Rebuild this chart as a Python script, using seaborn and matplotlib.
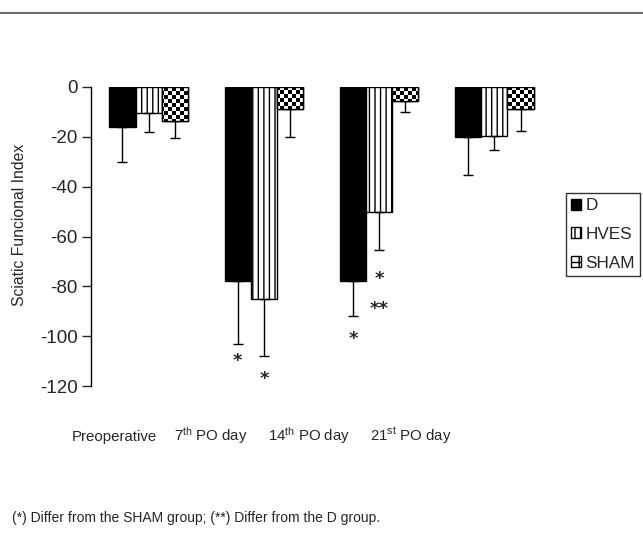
import numpy as np
import pandas as pd
import matplotlib
matplotlib.use('Agg')
import matplotlib.pyplot as plt
import seaborn as sns
from matplotlib.patches import Patch, Rectangle
from matplotlib.lines import Line2D


# data
days   = ['Preoperative', '7th PO day', '14th PO day', '21st PO day']
groups = ['D', 'HVES', 'SHAM']

sfi_D    = [-16.0, -78.0, -78.0, -20.0]
sfi_HVES = [-10.5, -85.0, -50.0, -19.5]
sfi_SHAM = [-13.5,  -9.0,  -5.5,  -9.0]

err_D    = [14.0, 25.0, 14.0, 15.5]
err_HVES = [ 7.7, 23.0, 15.5,  5.7]
err_SHAM = [ 7.0, 11.0,  4.5,  8.5]

tick_labels = ['Preoperative', '7$^{th}$ PO day', '14$^{th}$ PO day', '21$^{st}$ PO day']

# significance marks: (day index, group index, y, text)
marks = [(1, 0, -110, '*'), (1, 1, -117, '*'),
         (2, 0, -101, '*'), (2, 1, -77, '*'), (2, 1, -89, '**')]


sns.set_style('white')
plt.rcParams['font.family'] = ['Liberation Sans', 'DejaVu Sans']
plt.rcParams['mathtext.default'] = 'regular'
plt.rcParams['axes.unicode_minus'] = False
plt.rcParams['hatch.linewidth'] = 1.0

df = pd.DataFrame({
    'Day':   np.repeat(days, 3),
    'Group': groups * 4,
    'SFI':   np.ravel(np.column_stack([sfi_D, sfi_HVES, sfi_SHAM])),
})
errs = [err_D, err_HVES, err_SHAM]

fig = plt.figure(figsize=(6.43, 5.38), dpi=100)
ax = fig.add_axes([0.1415, 0.2825, 0.717, 0.5558])

sns.barplot(data=df, x='Day', y='SFI', hue='Group', order=days, hue_order=groups,
            palette=['black', 'white', 'white'], width=0.68, errorbar=None,
            edgecolor='black', linewidth=1.0, legend=False, ax=ax)

# hatch for HVES, checkerboard for SHAM
for bar in ax.containers[1]:
    bar.set_hatch('|||')

ny, nx = 75, 115
checker = (np.indices((ny, nx)).sum(axis=0) % 2).astype(float)
for bar in ax.containers[2]:
    im = ax.imshow(checker, cmap='gray', extent=(0, 1, 0, 1), transform=ax.transAxes,
                   aspect='auto', interpolation='nearest', zorder=bar.get_zorder() + 0.1)
    im.set_clip_path(bar)
    ax.add_patch(Rectangle(bar.get_xy(), bar.get_width(), bar.get_height(), fill=False,
                           edgecolor='black', linewidth=1.0, zorder=bar.get_zorder() + 0.2))

# one-sided error bars
for g, cont in enumerate(ax.containers[:3]):
    for i, bar in enumerate(cont):
        xc = bar.get_x() + bar.get_width() / 2
        ax.errorbar(xc, bar.get_height(), yerr=[[errs[g][i]], [0]], fmt='none',
                    ecolor='black', elinewidth=1.0, capsize=3.5, capthick=1.0, zorder=1)

# significance marks
for d, g, y, txt in marks:
    bar = ax.containers[g][d]
    ax.text(bar.get_x() + bar.get_width() / 2, y, txt, ha='center', va='center',
            fontsize=13, fontweight='bold', family='DejaVu Sans')

ax.set_xlim(-0.5, 3.5)
ax.set_ylim(-120, 0)
ax.set_yticks(range(-120, 1, 20))
ax.tick_params(axis='y', direction='out', length=6.5, width=1, labelsize=13.5, left=True, pad=3)
ax.set_xticks([-0.295, 0.538, 1.388, 2.272])
ax.set_xticklabels(tick_labels, fontsize=10.8, va='baseline')
ax.tick_params(axis='x', length=0, pad=39.5)
ax.set_xlabel('')
ax.set_ylabel('Sciatic Funcional Index', fontsize=11.3)
ax.yaxis.set_label_coords(-0.139, 0.538)

for s in ['top', 'right', 'bottom']:
    ax.spines[s].set_visible(False)
ax.spines['left'].set_color('black')
ax.spines['left'].set_linewidth(1.0)

handles = [Patch(facecolor='black', edgecolor='black'),
           Patch(facecolor='white', edgecolor='black', hatch='|||'),
           Patch(facecolor='white', edgecolor='black', hatch='++')]
fig.legend(handles, groups, loc='upper left', bbox_to_anchor=(0.88, 0.641),
           fontsize=12.3, frameon=True, fancybox=False, edgecolor='black',
           handlelength=0.6, handleheight=0.6, handletextpad=0.25,
           borderpad=0.3, labelspacing=0.8, borderaxespad=0)

fig.add_artist(Line2D([0, 1], [0.976, 0.976], transform=fig.transFigure,
                      color='#6e6e6e', linewidth=1.5))

fig.text(0.019, 0.037, '(*) Differ from the SHAM group; (**) Differ from the D group.',
         fontsize=10, ha='left', va='center')

fig.savefig('out.png', dpi=100)
